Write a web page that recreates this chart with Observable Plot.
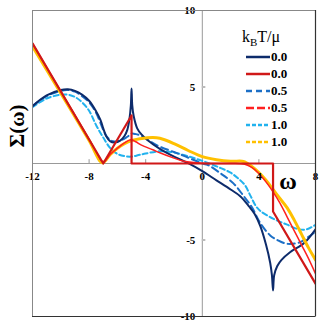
<!DOCTYPE html>
<html><head><meta charset="utf-8">
<script src="https://cdn.jsdelivr.net/npm/d3@7"></script>
<script src="https://cdn.jsdelivr.net/npm/@observablehq/plot@0.6"></script>
<style>
body{margin:0;background:#fff;}
#wrap{position:relative;width:327px;height:327px;font-family:"Liberation Serif","DejaVu Serif",serif;}
.lab{position:absolute;font-weight:bold;color:#000;white-space:nowrap;}
#legend{position:absolute;left:236px;top:28px;}
#legend .title{font-size:16px;margin-left:6px;}
#legend .row{display:flex;align-items:center;height:17px;font-weight:bold;font-size:13px;}
</style></head>
<body><div id="wrap"></div>
<script>
// tick labels
const xTicks = [-12, -8, -4, 0, 4, 8];
const yTicks = [10, 5, -5, -10];
const minorX = [-8, -4, 4];

// series: [omega, Sigma]
const sT0Blue = [[-12,3.75],[-11,4.45],[-10,4.8],[-9.5,4.85],[-9,4.75],[-8.5,4.5],[-8,4.1],[-7.5,3.4],[-7.2,2.85],[-7,2.3],[-6.8,1.8],[-6.5,1.45],[-6.2,1.38],[-5.8,1.5],[-5.5,1.8],[-5.3,2.2],[-5.15,2.9],[-5.05,3.8],[-5,4.9],[-4.95,3.8],[-4.85,3.1],[-4.6,2.3],[-4.3,1.9],[-3.9,1.55],[-3,0.95],[-2,0.45],[-1,0.02],[0,-0.5],[1,-1.1],[2,-1.7],[2.7,-2.15],[3.3,-2.8],[3.7,-3.3],[4.1,-4.1],[4.5,-5.3],[4.8,-6.5],[4.92,-7.3],[5,-8.3],[5.08,-7.3],[5.3,-6.7],[5.6,-6.3],[6.2,-5.8],[7.2,-5.2],[8,-4.3]];
const sT0Red = [[-12,7.85],[-7,0],[-5,3.14],[-5,0],[5,0],[5,-3.14],[8,-7.85]];
const sT05Blue = [[-12,3.75],[-11,4.4],[-10,4.75],[-9.5,4.8],[-9,4.7],[-8.5,4.4],[-8,4.0],[-7.5,3.3],[-7,2.2],[-6.7,1.7],[-6.3,1.45],[-5.8,1.5],[-5.3,1.75],[-5,1.95],[-4.7,1.92],[-4.3,1.8],[-3.7,1.45],[-3,1.1],[-2,0.75],[-1.3,0.5],[0,0],[0.4,-0.1],[1.3,-0.65],[2.2,-1.3],[2.9,-2.1],[3.5,-2.85],[4.1,-3.9],[4.8,-4.7],[5.3,-5.0],[6,-5.25],[6.9,-5.15],[7.5,-4.8],[8,-4.45]];
const sT05Red = [[-12,7.85],[-10,4.71],[-8,1.57],[-7.4,0.6],[-7.1,0.15],[-6.9,0.15],[-6.5,0.6],[-6,1.0],[-5.5,1.35],[-5.05,1.55],[-4.7,1.42],[-4.3,1.2],[-3.5,0.9],[-3,0.7],[-2,0.35],[-1.3,0.15],[0,0.02],[2,0],[3,-0.05],[3.5,-0.25],[4,-0.65],[4.5,-1.2],[5,-1.85],[5.5,-2.6],[6,-3.5],[6.5,-4.4],[7,-5.3],[7.5,-6.2],[8,-7.2]];
const sT1Blue = [[-12,3.68],[-11,4.25],[-10,4.5],[-9.5,4.5],[-9,4.35],[-8.5,4.0],[-8,3.45],[-7.5,2.5],[-7,1.7],[-6.5,1.0],[-6,0.63],[-5.5,0.48],[-5,0.45],[-4.5,0.55],[-4,0.65],[-3,0.8],[-2.2,0.75],[-1.3,0.55],[-0.4,0.3],[0.5,0],[1.3,-0.3],[2,-0.6],[2.5,-0.95],[3,-1.4],[3.4,-2.1],[3.8,-2.8],[4.1,-3.1],[5,-3.6],[6,-4.0],[6.8,-4.3],[7.4,-4.3],[8,-4.0]];
const sT1Orange = [[-12,7.65],[-10,4.6],[-8,1.5],[-7.05,0.05],[-6.5,0.6],[-6,1.0],[-5.5,1.3],[-5,1.5],[-4.4,1.62],[-3.5,1.7],[-3,1.65],[-2,1.3],[-1,0.85],[0,0.45],[1,0.25],[2,0.15],[2.8,0.15],[3,0.1],[3.5,-0.2],[4,-0.6],[4.5,-1.1],[5,-1.7],[5.5,-2.3],[6,-2.9],[6.5,-3.7],[7,-4.6],[7.5,-5.5],[8,-6.3]];

const legendLabels = ["0.0","0.0","0.5","0.5","1.0","1.0"];
const colors = ["#0d2b6b","#d01818","#1c6fc6","#ff2020","#22b2ee","#ffc000"];
const legendDash = ["none","none","6,4","8,3","4,2","4,2"];

const fx = d => d[0], fy = d => d[1];
const plot = Plot.plot({
  width: 327, height: 327,
  marginLeft: 32, marginRight: 12, marginTop: 10, marginBottom: 11,
  x: {domain: [-12, 8], axis: null},
  y: {domain: [-10, 10], axis: null},
  style: {fontFamily: '"Liberation Serif","DejaVu Serif",serif', background: "transparent"},
  marks: [
    Plot.ruleX([0], {stroke: "#999", strokeWidth: 1}),
    Plot.ruleY([0], {stroke: "#999", strokeWidth: 1}),
    Plot.ruleX(minorX, {y1: 0, y2: 0.25, stroke: "#999"}),
    Plot.ruleY([5, -5], {x1: 0, x2: 0.25, stroke: "#bbb", strokeWidth: 2}),
    Plot.line(sT1Blue, {x: fx, y: fy, stroke: colors[4], strokeWidth: 2, strokeDasharray: "5,3", curve: "catmull-rom", clip: true}),
    Plot.line(sT05Blue, {x: fx, y: fy, stroke: colors[2], strokeWidth: 2, strokeDasharray: "7,4", curve: "catmull-rom", clip: true}),
    Plot.line(sT0Blue, {x: fx, y: fy, stroke: colors[0], strokeWidth: 2, curve: "catmull-rom", clip: true}),
    Plot.line(sT1Orange, {x: fx, y: fy, stroke: colors[5], strokeWidth: 3, curve: "catmull-rom", clip: true}),
    Plot.line(sT05Red, {x: fx, y: fy, stroke: colors[3], strokeWidth: 1.5, curve: "catmull-rom", clip: true}),
    Plot.line(sT0Red, {x: fx, y: fy, stroke: colors[1], strokeWidth: 2.2, clip: true}),
    Plot.text(xTicks, {x: d => d, y: 0, dy: 13, text: d => String(d), fontSize: 11, fontWeight: "bold", fill: "#000"}),
    Plot.text(yTicks, {x: 0, y: d => d, dx: -7, textAnchor: "end", text: d => String(d), fontSize: 11, fontWeight: "bold", fill: "#000"}),
    Plot.frame({stroke: "#888"}),
    Plot.ruleX([8], {stroke: "#333", strokeWidth: 1.2}),
    Plot.ruleY([-10], {stroke: "#333", strokeWidth: 1.2})
  ]
});
const wrap = document.getElementById("wrap");
wrap.appendChild(plot);

const ylab = document.createElement("div");
ylab.className = "lab";
ylab.textContent = "Σ(ω)";
ylab.style.cssText += "font-size:21px;left:17px;top:126px;transform:translate(-50%,-50%) rotate(-90deg);";
wrap.appendChild(ylab);

const xlab = document.createElement("div");
xlab.className = "lab";
xlab.textContent = "ω";
xlab.style.cssText += "font-size:24px;left:288px;top:181px;transform:translate(-50%,-50%);";
wrap.appendChild(xlab);

const lg = document.createElement("div");
lg.id = "legend";
lg.innerHTML = '<div class="title">k<sub style="font-size:11px">B</sub>T/μ</div>';
legendLabels.forEach((l, i) => {
  const r = document.createElement("div");
  r.className = "row";
  r.innerHTML = `<svg width="34" height="6" style="margin-right:1px"><line x1="10" x2="34" y1="3" y2="3" stroke="${colors[i]}" stroke-width="2.5" ${legendDash[i] !== "none" ? `stroke-dasharray="${legendDash[i]}"` : ""}/></svg><span>${l}</span>`;
  lg.appendChild(r);
});
wrap.appendChild(lg);
</script></body></html>
